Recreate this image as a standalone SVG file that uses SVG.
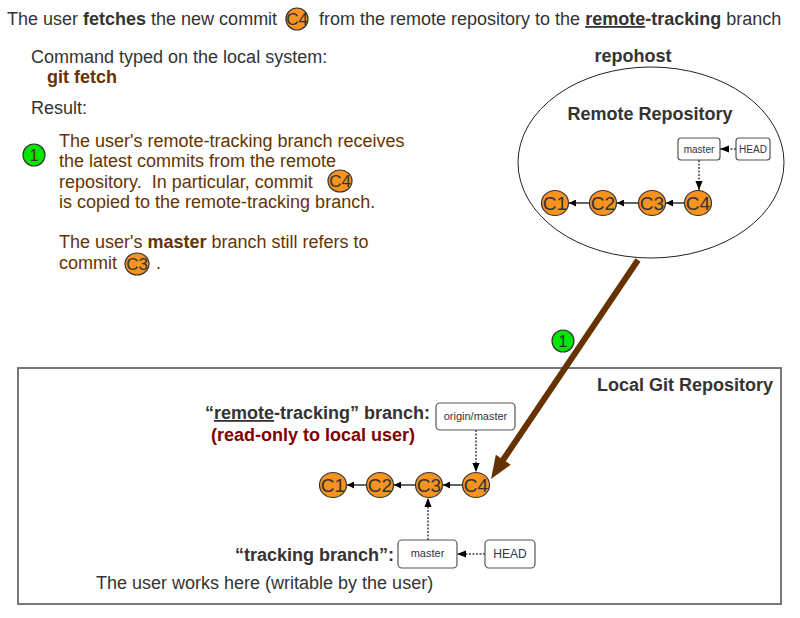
<svg xmlns="http://www.w3.org/2000/svg" width="800" height="618" viewBox="0 0 800 618">
<defs>
<style>
text{font-family:"Liberation Sans",Arial,sans-serif}
.t{font-size:18px;fill:#333}
.b{font-weight:bold}
.br{font-size:18px;fill:#663300}
.commit{fill:#f7931e;stroke:#333;stroke-width:1.2}
.clabel{font-size:19px;fill:#333;text-anchor:middle}
.box{fill:#fff;stroke:#555;stroke-width:1.2}
.blabel{font-size:11px;fill:#334;text-anchor:middle}
.dot{stroke:#444;stroke-width:1.5;stroke-dasharray:2 1.5;fill:none}
.solid{stroke:#333;stroke-width:1.5;fill:none}
.green{fill:#00e600;stroke:#333;stroke-width:1.2}
.u{text-decoration:underline}
</style>
<marker id="ah" viewBox="0 0 10 10" refX="10" refY="5" markerWidth="7" markerHeight="7" markerUnits="userSpaceOnUse" orient="auto">
<path d="M0,0 L10,5 L0,10 z" fill="#000"/>
</marker>
<marker id="ahd" viewBox="0 0 10 10" refX="10" refY="5" markerWidth="9" markerHeight="9" markerUnits="userSpaceOnUse" orient="auto">
<path d="M0,1 L10,5 L0,9 z" fill="#000"/>
</marker>
</defs>
<rect width="800" height="618" fill="#fff"/>

<!-- title -->
<g id="title">
<text class="t" x="7" y="25">The user <tspan class="b">fetches</tspan> the new commit</text>
<ellipse class="commit" cx="297" cy="19" rx="11" ry="11"/>
<text class="clabel" x="297" y="25" style="font-size:17px">C4</text>
<text class="t" x="319" y="25">from the remote repository to the <tspan class="b u">remote</tspan><tspan class="b">-tracking</tspan> branch</text>
</g>

<!-- left description -->
<g id="description">
<text class="t" x="31" y="63">Command typed on the local system:</text>
<text class="br b" x="47" y="83">git fetch</text>
<text class="t" x="31" y="114">Result:</text>
<circle class="green" cx="34" cy="155" r="11"/>
<text x="34" y="161" style="font-size:16px;fill:#333;text-anchor:middle">1</text>
<text class="br" x="59" y="147">The user's remote-tracking branch receives</text>
<text class="br" x="59" y="167">the latest commits from the remote</text>
<text class="br" x="59" y="188" xml:space="preserve">repository.  In particular, commit</text>
<ellipse class="commit" cx="340" cy="181" rx="12" ry="11"/>
<text class="clabel" x="340" y="187" style="font-size:17px">C4</text>
<text class="br" x="59" y="208">is copied to the remote-tracking branch.</text>
<text class="br" x="59" y="248">The user's <tspan class="b">master</tspan> branch still refers to</text>
<text class="br" x="59" y="269">commit</text>
<ellipse class="commit" cx="137" cy="264" rx="12" ry="11"/>
<text class="clabel" x="137" y="270" style="font-size:17px">C3</text>
<text class="br" x="156" y="269">.</text>
</g>

<!-- remote -->
<g id="repohost">
<text class="t b" x="633" y="62" text-anchor="middle">repohost</text>
<ellipse cx="651" cy="162.5" rx="133" ry="95.5" fill="#fff" stroke="#222" stroke-width="1"/>
<text class="t b" x="650" y="120" text-anchor="middle">Remote Repository</text>
</g>

<g id="r-master"><rect class="box" x="678" y="138" width="42" height="22" rx="3"/><text class="blabel" x="699" y="153" style="font-size:10px">master</text></g>
<g id="r-head"><rect class="box" x="736" y="138" width="34" height="22" rx="3"/><text class="blabel" x="753" y="153" style="font-size:10px">HEAD</text></g>
<g id="r-c1"><ellipse class="commit" cx="555" cy="203" rx="13.5" ry="12.5"/><text class="clabel" x="555" y="210">C1</text></g>
<g id="r-c2"><ellipse class="commit" cx="603" cy="203" rx="13.5" ry="12.5"/><text class="clabel" x="603" y="210">C2</text></g>
<g id="r-c3"><ellipse class="commit" cx="652" cy="203" rx="13.5" ry="12.5"/><text class="clabel" x="652" y="210">C3</text></g>
<g id="r-c4"><ellipse class="commit" cx="698" cy="203" rx="13.5" ry="12.5"/><text class="clabel" x="698" y="210">C4</text></g>

<!-- local -->
<g id="local-repo">
<rect x="18" y="368" width="763" height="236" fill="none" stroke="#777" stroke-width="2"/>
<text class="t b" x="773" y="391" text-anchor="end">Local Git Repository</text>
<text class="t b" x="205" y="419">“<tspan class="u">remote</tspan>-tracking” branch:</text>
<text class="t b" x="211" y="441" style="fill:#800000">(read-only to local user)</text>
<text class="t b" x="235" y="561">“tracking branch”:</text>
<text class="t" x="96" y="589">The user works here (writable by the user)</text>
</g>

<g id="l-origin"><rect class="box" x="436" y="403" width="79" height="27" rx="4"/><text class="blabel" x="475.5" y="420">origin/master</text></g>
<g id="l-master"><rect class="box" x="398" y="540" width="59" height="28" rx="4"/><text class="blabel" x="427.5" y="557">master</text></g>
<g id="l-head"><rect class="box" x="485" y="540" width="50" height="28" rx="4"/><text class="blabel" x="510" y="558" style="font-size:12px">HEAD</text></g>
<g id="l-c1"><ellipse class="commit" cx="333" cy="485" rx="13.5" ry="12.5"/><text class="clabel" x="333" y="492">C1</text></g>
<g id="l-c2"><ellipse class="commit" cx="380" cy="485" rx="13.5" ry="12.5"/><text class="clabel" x="380" y="492">C2</text></g>
<g id="l-c3"><ellipse class="commit" cx="429" cy="485" rx="13.5" ry="12.5"/><text class="clabel" x="429" y="492">C3</text></g>
<g id="l-c4"><ellipse class="commit" cx="476" cy="485" rx="13.5" ry="12.5"/><text class="clabel" x="476" y="492">C4</text></g>

<g id="step1"><circle class="green" cx="563" cy="341" r="11"/><text x="563" y="347" style="font-size:16px;fill:#333;text-anchor:middle">1</text></g>

<!-- connectors -->
<g id="connectors">
<line class="solid" x1="589" y1="203" x2="569" y2="203" marker-end="url(#ah)"/>
<line class="solid" x1="638" y1="203" x2="617" y2="203" marker-end="url(#ah)"/>
<line class="solid" x1="684" y1="203" x2="666" y2="203" marker-end="url(#ah)"/>
<line class="dot" x1="736" y1="149" x2="720" y2="149" marker-end="url(#ahd)"/>
<line class="dot" x1="699" y1="160" x2="699" y2="190" marker-end="url(#ahd)"/>

<line class="solid" x1="366" y1="485" x2="347" y2="485" marker-end="url(#ah)"/>
<line class="solid" x1="415" y1="485" x2="394" y2="485" marker-end="url(#ah)"/>
<line class="solid" x1="462" y1="485" x2="443" y2="485" marker-end="url(#ah)"/>
<line class="dot" x1="476" y1="430" x2="476" y2="472" marker-end="url(#ahd)"/>
<line class="dot" x1="428" y1="540" x2="428" y2="498" marker-end="url(#ahd)"/>
<line class="dot" x1="485" y1="554" x2="457" y2="554" marker-end="url(#ahd)"/>

<line x1="638" y1="260" x2="503" y2="460" stroke="#663300" stroke-width="6"/>
<polygon points="491,479 510.8,464.8 495.8,454.8" fill="#663300"/>
</g>
</svg>
